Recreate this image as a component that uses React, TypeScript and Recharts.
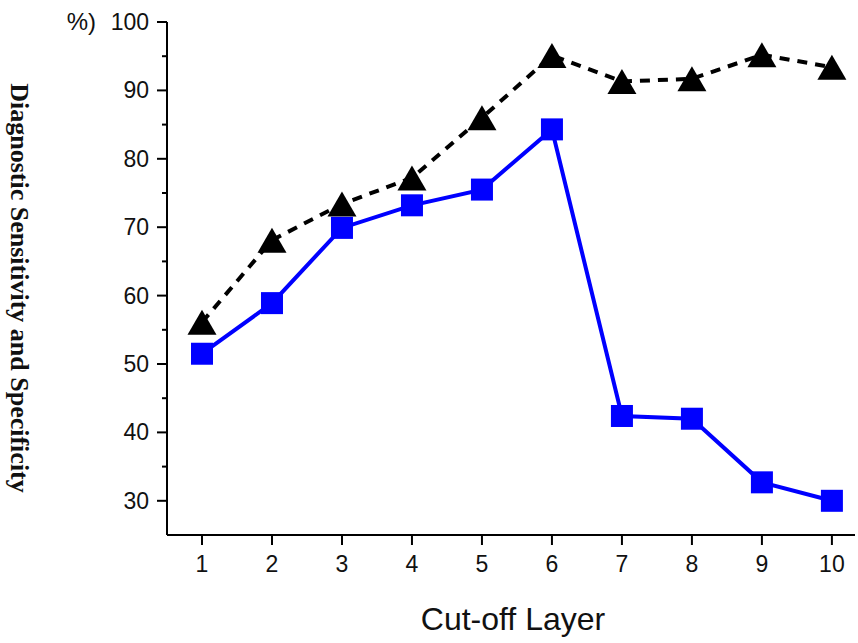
import React from "react";
import { LineChart, Line, XAxis, YAxis } from "recharts";

const layers = [1, 2, 3, 4, 5, 6, 7, 8, 9, 10];
const sensitivity = [56.1, 68.1, 73.4, 77.2, 86.0, 95.1, 91.3, 91.7, 95.2, 93.4];
const specificity = [51.5, 58.9, 69.9, 73.2, 75.5, 84.3, 42.4, 42.0, 32.7, 30.0];
const yTicks = [30, 35, 40, 45, 50, 55, 60, 65, 70, 75, 80, 85, 90, 95, 100];
const yMajor = [30, 40, 50, 60, 70, 80, 90, 100];

const data = layers.map((layer, i) => ({
  layer,
  sens: sensitivity[i],
  spec: specificity[i],
}));

const tickFont = "'Liberation Sans', Arial, sans-serif";

function YTick(props: any) {
  const { x, y, payload } = props;
  const major = yMajor.includes(payload.value);
  return (
    <g>
      <line x1={x} x2={x - (major ? 10 : 5)} y1={y} y2={y} stroke="#000" strokeWidth={2} />
      {major && (
        <text x={x - 18} y={y} dy={8} textAnchor="end" fontSize={23} fontFamily={tickFont} fill="#111">
          {payload.value}
        </text>
      )}
    </g>
  );
}

function XTick(props: any) {
  const { x, y, payload } = props;
  return (
    <g>
      <line x1={x} x2={x} y1={y} y2={y + 10} stroke="#000" strokeWidth={2} />
      <text x={x} y={y + 37} textAnchor="middle" fontSize={23} fontFamily={tickFont} fill="#111">
        {payload.value}
      </text>
    </g>
  );
}

function Triangle(props: any) {
  const { cx, cy, index } = props;
  if (cx == null || cy == null) return <g key={`t${index}`} />;
  return (
    <path
      key={`t${index}`}
      d={`M${cx},${cy - 12.5} L${cx + 14.5},${cy + 12.5} L${cx - 14.5},${cy + 12.5} Z`}
      fill="#000"
    />
  );
}

function Square(props: any) {
  const { cx, cy, index } = props;
  if (cx == null || cy == null) return <g key={`s${index}`} />;
  return <rect key={`s${index}`} x={cx - 11} y={cy - 11} width={22} height={22} fill="#0000ff" />;
}

export default function App() {
  return (
    <div style={{ position: "absolute", left: 0, top: 0, width: 858, height: 643, background: "#fff" }}>
      <LineChart width={858} height={643} data={data} margin={{ top: 22, right: 3, bottom: 68, left: 0 }}>
        <XAxis
          dataKey="layer"
          type="number"
          domain={[0.5, 10.33]}
          ticks={layers}
          allowDataOverflow
          height={40}
          tickSize={0}
          tickMargin={0}
          tickLine={false}
          tick={<XTick />}
          axisLine={{ stroke: "#000", strokeWidth: 2 }}
        />
        <YAxis
          type="number"
          domain={[25, 100]}
          ticks={yTicks}
          interval={0}
          allowDataOverflow
          width={167}
          tickSize={0}
          tickMargin={0}
          tickLine={false}
          tick={<YTick />}
          axisLine={{ stroke: "#000", strokeWidth: 2 }}
        />
        <Line
          dataKey="sens"
          stroke="#000"
          strokeWidth={4}
          strokeDasharray="10 8"
          dot={Triangle}
          activeDot={false}
          isAnimationActive={false}
        />
        <Line
          dataKey="spec"
          stroke="#0000ff"
          strokeWidth={4}
          dot={Square}
          activeDot={false}
          isAnimationActive={false}
        />
      </LineChart>
      <svg width={858} height={643} style={{ position: "absolute", left: 0, top: 0, pointerEvents: "none" }}>
        <text x={96} y={30} textAnchor="end" fontSize={24} fontFamily={tickFont} fill="#111">
          %)
        </text>
        <text
          x={513}
          y={630}
          textAnchor="middle"
          fontSize={32}
          fontFamily={tickFont}
          fill="#111"
        >
          Cut-off Layer
        </text>
        <text
          transform="translate(11,288) rotate(90)"
          textAnchor="middle"
          fontSize={26}
          fontWeight="bold"
          fontFamily="'Liberation Serif', 'Times New Roman', serif"
          fill="#111"
        >
          Diagnostic Sensitivity and Specificity
        </text>
      </svg>
    </div>
  );
}
